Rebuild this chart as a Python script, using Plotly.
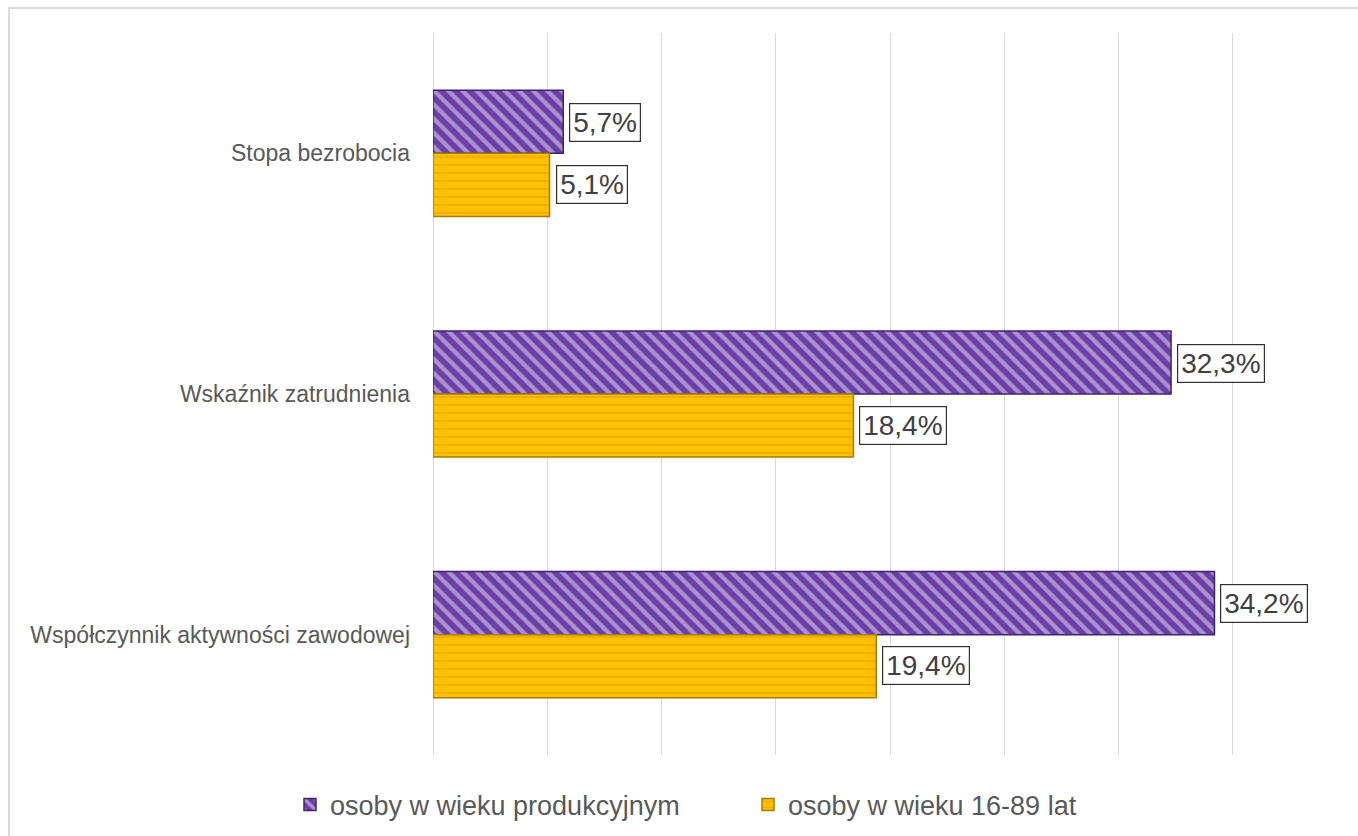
import plotly.graph_objects as go

categories = ["Stopa bezrobocia", "Wskaźnik zatrudnienia", "Współczynnik aktywności zawodowej"]
series_names = ["osoby w wieku produkcyjnym", "osoby w wieku 16-89 lat"]
productive_age = [5.7, 32.3, 34.2]
age_16_89 = [5.1, 18.4, 19.4]

FONT = "Liberation Sans Narrow, Liberation Sans, Arial, sans-serif"
TEXT_GREY = "#595959"

fig = go.Figure()
fig.add_trace(go.Bar(
    name=series_names[0], y=categories, x=productive_age, orientation="h",
    marker=dict(
        color="#6C3FA6",
        line=dict(color="#3E2370", width=1.5),
        pattern=dict(shape="\\", fgcolor="#ECE6FA", bgcolor="#6C3FA6",
                     size=10, solidity=0.42, fillmode="overlay"),
    ),
))
fig.add_trace(go.Bar(
    name=series_names[1], y=categories, x=age_16_89, orientation="h",
    marker=dict(
        color="#FFC000",
        line=dict(color="#A67C00", width=1.5),
        pattern=dict(shape="-", fgcolor="#E09A00", bgcolor="#FFC000",
                     size=8, solidity=0.22, fillmode="overlay"),
    ),
))

# value labels in framed boxes to the right of each bar
for vals, shift in ((productive_age, 31), (age_16_89, -31)):
    for cat, v in zip(categories, vals):
        fig.add_annotation(
            x=v, y=cat, xref="x", yref="y", text=f"{v:.1f}%".replace(".", ","),
            showarrow=False, xanchor="left", yanchor="middle", xshift=6, yshift=shift,
            font=dict(family=FONT, size=28, color="#404040"),
            bgcolor="white", bordercolor="#303030", borderwidth=1.2, borderpad=3,
        )

# outer chart frame (left and top edges visible)
fig.add_shape(type="rect", xref="paper", yref="paper",
              x0=(9 - 433) / 914, x1=1.2, y0=-0.3, y1=(755 - 8) / 722,
              line=dict(color="#D9D9D9", width=2), fillcolor="rgba(0,0,0,0)", layer="below")

fig.update_layout(
    width=1358, height=836,
    margin=dict(l=433, r=11, t=33, b=81, autoexpand=False),
    paper_bgcolor="white", plot_bgcolor="white",
    barmode="group", bargap=0.476, bargroupgap=0,
    font=dict(family=FONT, color=TEXT_GREY),
    showlegend=True,
    legend=dict(orientation="h", x=(290 - 433) / 914, xanchor="left",
                y=(755 - 805) / 722, yanchor="middle",
                font=dict(family=FONT, size=27, color=TEXT_GREY),
                itemwidth=30, entrywidth=413, entrywidthmode="pixels",
                bgcolor="rgba(0,0,0,0)"),
    xaxis=dict(range=[0, 40], dtick=5, showticklabels=False, showgrid=True,
               gridcolor="#D9D9D9", gridwidth=1, zeroline=True, zerolinecolor="#D9D9D9",
               zerolinewidth=1, showline=False, fixedrange=True),
    yaxis=dict(autorange="reversed", showgrid=False, showline=False, ticks="",
               ticklabelstandoff=22, tickfont=dict(family=FONT, size=23, color=TEXT_GREY)),
)

fig.write_html("out.html")
